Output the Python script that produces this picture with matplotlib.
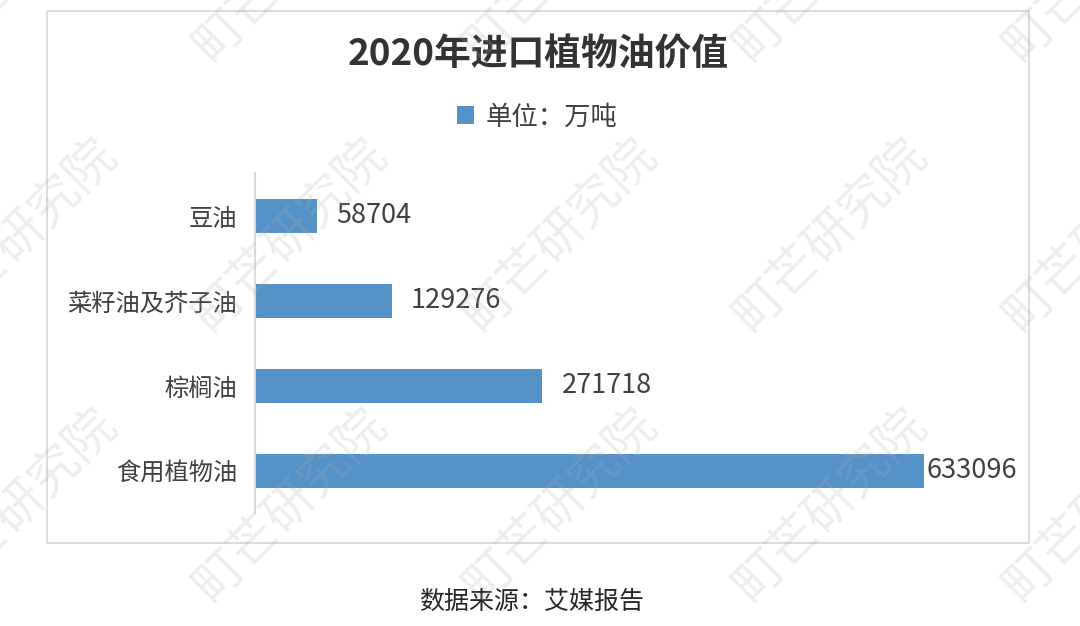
import matplotlib
matplotlib.use('Agg')
import matplotlib.pyplot as plt
from matplotlib.patches import Rectangle

plt.rcParams['font.family'] = ['Noto Sans CJK SC', 'DejaVu Sans']

# data (top to bottom as in the chart)
categories = ['豆油', '菜籽油及芥子油', '棕榈油', '食用植物油']
values = [58704, 129276, 271718, 633096]
title = '2020年进口植物油价值'
series_name = '单位：万吨'
source = '数据来源：艾媒报告'
watermark = '町芒研究院'

W, H = 1080, 626
bar_color = '#5592c8'
text_color = '#404040'
xmax = 700000

fig = plt.figure(figsize=(W / 100, H / 100), dpi=100)
fig.patch.set_facecolor('white')

# outer chart frame
fig.patches.append(Rectangle((47 / W, 1 - 543 / H), (1029 - 47) / W, (543 - 11) / H,
                             transform=fig.transFigure, fill=False,
                             edgecolor='#d9d9d9', linewidth=1.3, zorder=0))

ax = fig.add_axes([255 / W, 1 - 513 / H, (995 - 255) / W, (513 - 173) / H])
ypos = range(len(categories))
bars = ax.barh(ypos, values, height=0.4, color=bar_color, label=series_name, zorder=2)
ax.set_xlim(0, xmax)
ax.set_ylim(len(categories) - 0.5, -0.5)
ax.set_yticks(list(ypos))
ax.set_yticklabels(categories, fontsize=17.5, color=text_color)
ax.tick_params(axis='y', length=0, pad=13)
ax.set_xticks([])
for s in ['top', 'right', 'bottom']:
    ax.spines[s].set_visible(False)
ax.spines['left'].set_color('#d9d9d9')
ax.spines['left'].set_linewidth(1.5)

for b, v in zip(bars, values):
    off = 1.5 if v > 0.85 * xmax else 14
    ax.annotate(str(v), (b.get_width(), b.get_y() + b.get_height() / 2),
                xytext=(off, 0), textcoords='offset points',
                ha='left', va='center', fontsize=19.5, color=text_color)

fig.text(538 / W, 1 - 54 / H, title, ha='center', va='center',
         fontsize=26.5, fontweight='bold', color='#333333')

fig.legend(handles=[bars], labels=[series_name], loc='center',
           bbox_to_anchor=(537 / W, 1 - 117 / H), frameon=False,
           fontsize=19, handlelength=0.65, handleheight=0.65,
           handletextpad=0.45, labelcolor=text_color)

fig.text(532 / W, 1 - 602 / H, source, ha='center', va='center',
         fontsize=18, color='#262626')

# watermark grid
for wy in [-35, 235, 505, 775]:
    for wx in [20, 290, 560, 830, 1100]:
        fig.text(wx / W, 1 - wy / H, watermark, ha='center', va='center',
                 rotation=45, rotation_mode='anchor', fontsize=36,
                 color='#b0b0b0', alpha=0.22, zorder=10)

fig.savefig('out.png', dpi=100)
